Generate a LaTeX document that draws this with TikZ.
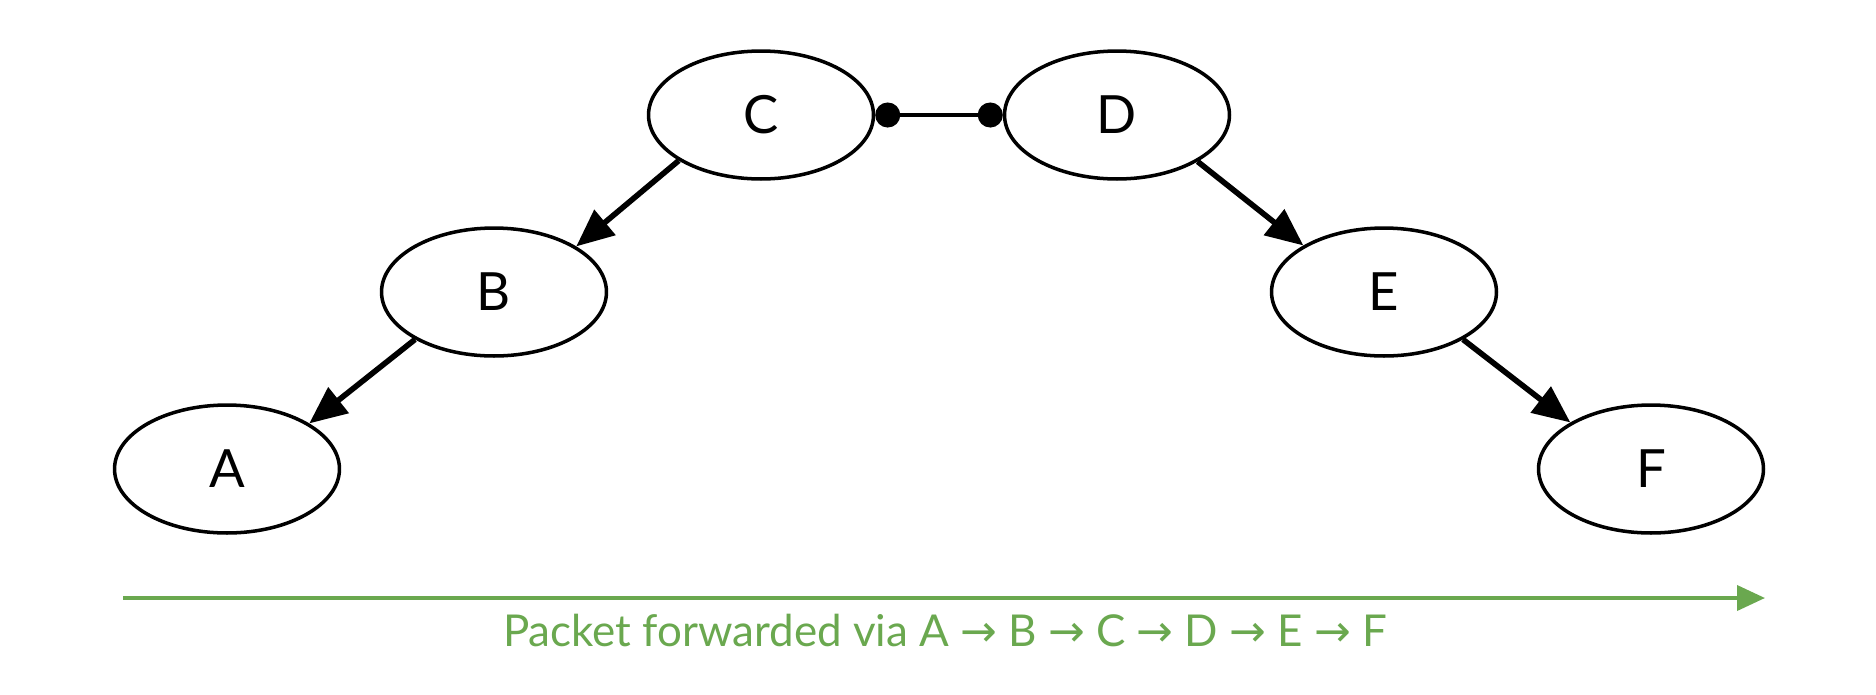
\documentclass[tikz,border=0pt]{standalone}
\usepackage{fontspec}
\setmainfont{Lato}
\newfontfamily\arrowfont{DejaVu Sans}
\usetikzlibrary{arrows.meta, positioning, shapes.geometric}
\definecolor{pathgreen}{HTML}{6AA84F}
\newcommand{\via}{ {\arrowfont →} }
\tikzset{
  x=0.02cm, y=-0.02cm,
  hop/.style={ellipse, draw, line width=2pt, minimum width=4.5cm, minimum height=2.56cm, inner sep=0pt, font=\fontsize{30}{32}\selectfont},
  fwd/.style={line width=3.2pt, -{Triangle[length=0.75cm, width=0.64cm]}},
  link/.style={line width=2.6pt, {Circle[length=0.5cm]}-{Circle[length=0.5cm]}},
}

\begin{document}
\begin{tikzpicture}
  \useasboundingbox (0,0) rectangle (1876,694);

  % hosts
  \node[hop] (A) at (227,469) {A};
  \node[hop] (B) at (494,292) {B};
  \node[hop] (C) at (761,115) {C};
  \node[hop] (D) at (1117,115) {D};
  \node[hop] (E) at (1384,292) {E};
  \node[hop] (F) at (1651,469) {F};

  % links
  \draw[fwd] (C.209) -- (B.29);
  \draw[fwd] (B.211) -- (A.29);
  \draw[fwd] (D.330) -- (E.150);
  \draw[fwd] (E.329) -- (F.150);
  \draw[link] (C.east) -- (D.west);

  % forwarding path
  \coordinate (pstart) at (123,598);
  \coordinate (pend) at (1765,598);
  \draw[pathgreen, line width=2.2pt, -{Triangle[length=0.56cm, width=0.5cm]}] (pstart) -- (pend);
  \node[text=pathgreen, font=\fontsize{25}{28}\selectfont] (caption) at (945,630)
    {Packet forwarded via A\via B\via C\via D\via E\via F};
\end{tikzpicture}
\end{document}
